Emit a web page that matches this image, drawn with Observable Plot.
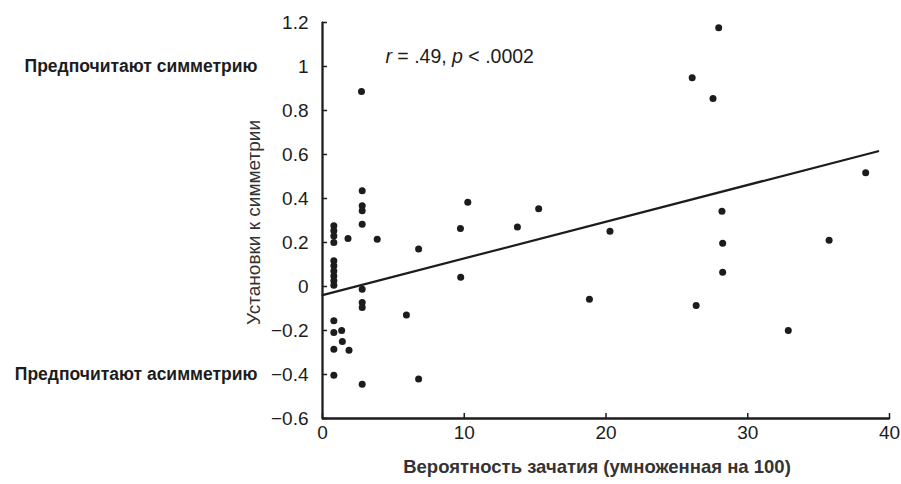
<!DOCTYPE html>
<html>
<head>
<meta charset="utf-8">
<script src="https://cdn.jsdelivr.net/npm/d3@7"></script>
<script src="https://cdn.jsdelivr.net/npm/@observablehq/plot@0.6"></script>
<style>
  html, body { margin: 0; padding: 0; background: #fff; }
  #chart svg { display: block; }
</style>
</head>
<body>
<div id="chart"></div>
<script>
// Conception probability (×100)
const conceptionX = [
  0.8, 0.8, 0.8, 0.8, 0.8, 0.8, 0.8, 0.8, 0.8, 0.8, 0.8, 0.8, 0.8, 0.8,
  1.35, 1.4, 1.87, 1.8, 3.86,
  2.75, 2.8, 2.8, 2.8, 2.8, 2.8, 2.8, 2.8, 2.8,
  5.92, 6.78, 6.78,
  9.73, 10.25, 9.75, 13.75, 15.25, 18.83, 20.28,
  26.08, 27.95, 27.55, 28.18, 28.23, 28.23, 26.36, 32.86, 35.74, 38.32
];
// Attitude to symmetry
const symmetryY = [
  0.276, 0.253, 0.23, 0.2, 0.117, 0.094, 0.071, 0.048, 0.026, 0.006, -0.156, -0.209, -0.285, -0.403,
  -0.2, -0.25, -0.29, 0.218, 0.215,
  0.886, 0.435, 0.367, 0.344, 0.283, -0.012, -0.073, -0.095, -0.444,
  -0.13, 0.17, -0.42,
  0.264, 0.383, 0.042, 0.27, 0.353, -0.058, 0.251,
  0.949, 1.176, 0.855, 0.342, 0.197, 0.065, -0.086, -0.2, 0.21, 0.517
];
// Fitted regression line
const fitX = [0, 39.2];
const fitY = [-0.039, 0.615];

const xTicks = [0, 10, 20, 30, 40];
const yTicks = [-0.6, -0.4, -0.2, 0, 0.2, 0.4, 0.6, 0.8, 1, 1.2];

const xTitle = "Вероятность зачатия (умноженная на 100)";
const yTitle = "Установки к симметрии";
const sideLabels = ["Предпочитают симметрию", "Предпочитают асимметрию"];
const sideLabelY = [1, -0.4];
// statistic label pieces: [text, italic?]
const statParts = [["r", true], [" = .49, ", false], ["p", true], [" < .0002", false]];

const points = conceptionX.map((x, i) => ({x, y: symmetryY[i]}));
const fit = fitX.map((x, i) => ({x, y: fitY[i]}));
const sides = sideLabels.map((label, i) => ({label, y: sideLabelY[i]}));

// axis lines along the ends of the tick ranges
const x0 = xTicks[0], x1 = xTicks[xTicks.length - 1];
const y0 = yTicks[0], y1 = yTicks[yTicks.length - 1];
const axisLines = [
  {axis: "y", x: x0, y: y0}, {axis: "y", x: x0, y: y1},
  {axis: "x", x: x0, y: y0}, {axis: "x", x: x1, y: y0}
];

const ink = "#1c1c1c";
const fontFamily = "'Liberation Sans', Arial, sans-serif";
const fmt = d => String(+d.toFixed(1)).replace("-", "\u2212");

// measure the statistic pieces so they can sit side by side
const statSize = 19.5;
const ctx = document.createElement("canvas").getContext("2d");
let offset = 0;
const statMarks = statParts.map(([s, it]) => {
  ctx.font = `${it ? "italic " : ""}${statSize}px ${fontFamily}`;
  const m = Plot.text([s], {x: 4.44, y: 1.045, textAnchor: "start", dx: offset, fontSize: statSize,
    fontStyle: it ? "italic" : "normal", fill: ink});
  offset += ctx.measureText(s).width;
  return m;
});

const plot = Plot.plot({
  width: 901,
  height: 484,
  marginLeft: 322,
  marginRight: 12,
  marginTop: 22,
  marginBottom: 66,
  style: {fontFamily, color: ink},
  x: {domain: [0, 40]},
  y: {domain: [-0.6, 1.2]},
  marks: [
    Plot.axisX({ticks: xTicks, tickSize: -5, tickPadding: 12, fontSize: 19, label: null, strokeWidth: 1.5, tickFormat: d => String(d)}),
    Plot.axisY({ticks: yTicks, tickSize: -5, tickPadding: 19, fontSize: 19, label: null, strokeWidth: 1.5, tickFormat: fmt}),
    Plot.ruleX([x0], {stroke: ink, strokeWidth: 1.8}),
    Plot.ruleY([y0], {stroke: ink, strokeWidth: 1.8}),
    Plot.line(axisLines, {x: "x", y: "y", z: "axis", stroke: ink, strokeWidth: 1.8}),
    Plot.line(fit, {x: "x", y: "y", stroke: ink, strokeWidth: 2.2}),
    Plot.dot(points, {x: "x", y: "y", r: 3.5, fill: ink, stroke: "none"}),
    Plot.text(sides, {x: 0, y: "y", text: "label", dx: -65, textAnchor: "end", fontSize: 17.5, fontWeight: "bold", fill: ink}),
    Plot.text([yTitle], {frameAnchor: "left", textAnchor: "middle", rotate: -90, dx: -69, dy: 2, fontSize: 19, fill: "#333"}),
    Plot.text([xTitle], {frameAnchor: "bottom", textAnchor: "middle", dy: 54, dx: -9, fontSize: 18.5, fontWeight: "bold", fill: "#333"}),
    ...statMarks
  ]
});

document.getElementById("chart").appendChild(plot);
</script>
</body>
</html>
